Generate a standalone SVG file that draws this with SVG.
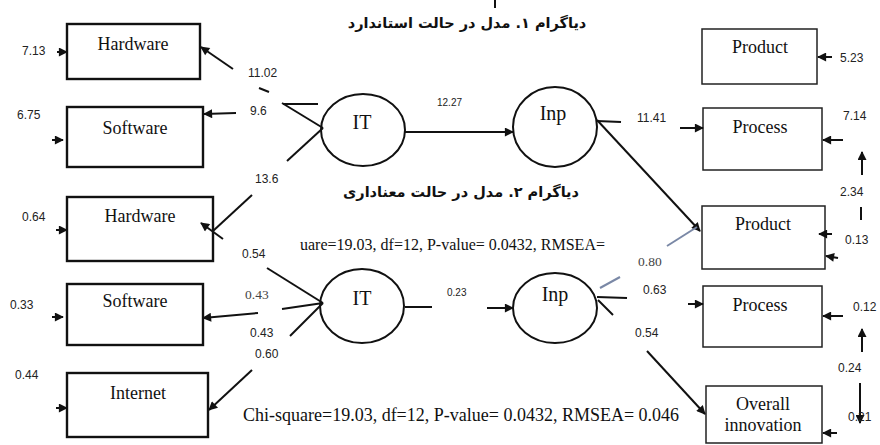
<svg xmlns="http://www.w3.org/2000/svg" width="880" height="445" viewBox="0 0 880 445">
<defs>
<style>
.bl{fill:#fff;stroke:#111;stroke-width:2.4}
.br{fill:#fff;stroke:#222;stroke-width:1.5}
.el{fill:#fff;stroke:#111;stroke-width:2}
.lbl{font-family:"Liberation Serif","Times New Roman",serif;font-size:18px;fill:#111;text-anchor:middle}
.lv{font-family:"Liberation Serif","Times New Roman",serif;font-size:20px;fill:#111;text-anchor:middle}
.num{font-family:"Liberation Sans",Arial,sans-serif;font-size:12px;fill:#222}
.sm{font-family:"Liberation Sans",Arial,sans-serif;font-size:10px;fill:#222}
.nser{font-family:"Liberation Serif","Times New Roman",serif;font-size:13.5px;fill:#444}
.stat{font-family:"Liberation Serif","Times New Roman",serif;fill:#111}
.title{font-family:"DejaVu Sans","Noto Sans",sans-serif;font-size:14.5px;font-weight:bold;fill:#111;text-anchor:middle}
.c{stroke:#111;stroke-width:2;fill:none}
.ca{stroke:#111;stroke-width:2;fill:none;marker-end:url(#ah)}
.g{stroke:#7a88a6;stroke-width:2;fill:none}
</style>
<marker id="ah" viewBox="0 0 10 10" refX="9" refY="5" markerWidth="12" markerHeight="9" markerUnits="userSpaceOnUse" orient="auto">
<path d="M0,0 L10,5 L0,10 z" fill="#111"/>
</marker>
</defs>
<rect width="880" height="445" fill="#fff"/>
<line x1="495" y1="0" x2="495" y2="8" class="c" stroke-width="1.5"/>
<text x="467" y="28" class="title" direction="rtl">دیاگرام ۱. مدل در حالت استاندارد</text>
<text x="461" y="197" class="title" direction="rtl">دیاگرام ۲. مدل در حالت معناداری</text>

<g id="hw1"><rect x="67" y="24" width="133" height="55" class="bl"/><text x="133" y="50" class="lbl">Hardware</text></g>
<g id="sw1"><rect x="67" y="107" width="136" height="60" class="bl"/><text x="135" y="134" class="lbl">Software</text></g>
<g id="it1"><ellipse cx="363" cy="130" rx="42" ry="36" class="el"/><text x="362" y="129" class="lv">IT</text></g>
<g id="inp1"><ellipse cx="555" cy="127" rx="42" ry="40" class="el"/><text x="553" y="120" class="lv">Inp</text></g>
<g id="prod1"><rect x="702" y="29" width="115" height="55" class="br"/><text x="760" y="53" class="lbl">Product</text></g>
<g id="proc1"><rect x="703" y="108" width="119" height="62" class="br"/><text x="760" y="133" class="lbl">Process</text></g>
<g id="prod2"><rect x="702" y="206" width="123" height="63" class="br"/><text x="763" y="230" class="lbl">Product</text></g>
<g id="hw2"><rect x="67" y="197" width="146" height="64" class="bl"/><text x="140" y="222" class="lbl">Hardware</text></g>
<g id="sw2"><rect x="67" y="284" width="136" height="61" class="bl"/><text x="135" y="307" class="lbl">Software</text></g>
<g id="inet"><rect x="67" y="373" width="141" height="64" class="bl"/><text x="138" y="399" class="lbl">Internet</text></g>
<g id="it2"><ellipse cx="362" cy="306" rx="42" ry="37" class="el"/><text x="362" y="305" class="lv">IT</text></g>
<g id="inp2"><ellipse cx="555" cy="308" rx="42" ry="35" class="el"/><text x="555" y="301" class="lv">Inp</text></g>
<g id="proc2"><rect x="703" y="286" width="119" height="61" class="br"/><text x="760" y="311" class="lbl">Process</text></g>
<g id="overall"><rect x="706" y="386" width="116" height="57" class="br"/><text x="763" y="410" class="lbl">Overall</text><text x="763" y="431" class="lbl">innovation</text></g>

<g id="connectors">
<line x1="57" y1="52" x2="67" y2="52" class="ca"/>
<line x1="233" y1="69" x2="201" y2="47" class="ca"/>
<line x1="259" y1="88" x2="269" y2="92" class="c"/>
<line x1="236" y1="113" x2="204" y2="114" class="ca"/>
<line x1="52" y1="140" x2="63" y2="140" class="ca"/>
<line x1="283" y1="104" x2="318" y2="104" class="c"/>
<line x1="282" y1="103" x2="323" y2="128" class="c"/>
<line x1="287" y1="161" x2="323" y2="128" class="c"/>
<line x1="252" y1="195" x2="213" y2="231" class="c"/>
<line x1="223" y1="239" x2="201" y2="223" class="ca"/>
<line x1="405" y1="132" x2="513" y2="132" class="ca"/>
<line x1="597" y1="121" x2="621" y2="122" class="c"/>
<line x1="597" y1="120" x2="700" y2="231" class="ca"/>
<line x1="680" y1="128" x2="703" y2="128" class="ca"/>
<line x1="832" y1="57" x2="818" y2="57" class="ca"/>
<line x1="843" y1="140" x2="823" y2="140" class="ca"/>
<line x1="862" y1="175" x2="862" y2="152" class="ca"/>
<line x1="861" y1="207" x2="861" y2="220" class="c"/>
<line x1="832" y1="234" x2="819" y2="234" class="ca"/>
<line x1="838" y1="258" x2="826" y2="256" class="ca"/>
<line x1="667" y1="246" x2="697" y2="227" class="g"/>
<line x1="600" y1="288" x2="620" y2="277" class="g"/>
<line x1="56" y1="230" x2="67" y2="230" class="ca"/>
<line x1="267" y1="268" x2="323" y2="303" class="c"/>
<line x1="282" y1="309" x2="323" y2="303" class="c"/>
<line x1="258" y1="313" x2="203" y2="318" class="ca"/>
<line x1="52" y1="317" x2="63" y2="317" class="ca"/>
<line x1="290" y1="336" x2="323" y2="303" class="c"/>
<line x1="252" y1="370" x2="209" y2="410" class="ca"/>
<line x1="56" y1="408" x2="67" y2="408" class="ca"/>
<line x1="405" y1="307" x2="432" y2="307" class="c"/>
<line x1="487" y1="308" x2="513" y2="308" class="ca"/>
<line x1="597" y1="297" x2="627" y2="298" class="c"/>
<line x1="598" y1="300" x2="613" y2="315" class="c"/>
<line x1="688" y1="304" x2="703" y2="304" class="ca"/>
<line x1="647" y1="351" x2="705" y2="414" class="ca"/>
<line x1="843" y1="316" x2="823" y2="316" class="ca"/>
<line x1="862" y1="352" x2="862" y2="329" class="ca"/>
<line x1="860" y1="383" x2="860" y2="423" class="ca"/>
<line x1="837" y1="433" x2="823" y2="433" class="ca"/>
</g>

<g id="labels">
<text x="22" y="55" class="num">7.13</text>
<text x="248" y="77" class="num">11.02</text>
<text x="250" y="115" class="num">9.6</text>
<text x="17" y="119" class="num">6.75</text>
<text x="255" y="183" class="num">13.6</text>
<text x="437" y="106" class="sm">12.27</text>
<text x="637" y="122" class="num">11.41</text>
<text x="840" y="62" class="num">5.23</text>
<text x="843" y="120" class="num">7.14</text>
<text x="840" y="196" class="num">2.34</text>
<text x="845" y="244" class="num">0.13</text>
<text x="638" y="266" class="nser">0.80</text>
<text x="643" y="294" class="num">0.63</text>
<text x="22" y="221" class="num">0.64</text>
<text x="242" y="258" class="num">0.54</text>
<text x="245" y="299" class="nser">0.43</text>
<text x="10" y="309" class="num">0.33</text>
<text x="250" y="337" class="num">0.43</text>
<text x="255" y="358" class="num">0.60</text>
<text x="15" y="379" class="num">0.44</text>
<text x="447" y="296" class="sm">0.23</text>
<text x="635" y="337" class="num">0.54</text>
<text x="853" y="311" class="num">0.12</text>
<text x="838" y="372" class="num">0.24</text>
<text x="848" y="421" class="num">0.21</text>
<text x="300" y="250" class="stat" font-size="16">uare=19.03, df=12, P-value= 0.0432, RMSEA=</text>
<text x="243" y="421" class="stat" font-size="18">Chi-square=19.03, df=12, P-value= 0.0432, RMSEA= 0.046</text>
</g>
</svg>
